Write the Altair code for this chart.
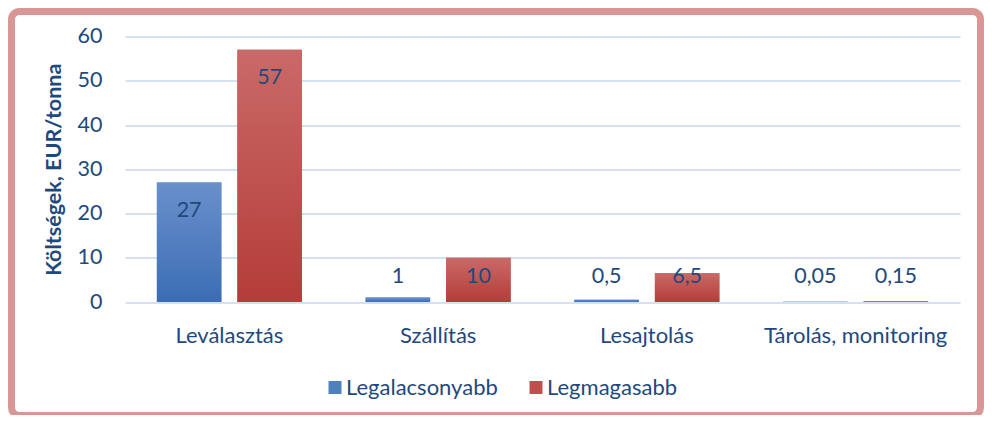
import altair as alt
import pandas as pd

categories = ["Leválasztás", "Szállítás", "Lesajtolás", "Tárolás, monitoring"]
series = ["Legalacsonyabb", "Legmagasabb"]
low_values = [27, 1, 0.5, 0.05]
high_values = [57, 10, 6.5, 0.15]
low_labels = ["27", "1", "0,5", "0,05"]
high_labels = ["57", "10", "6,5", "0,15"]
y_ticks = [0, 10, 20, 30, 40, 50, 60]

rows = []
for i, c in enumerate(categories):
    rows.append({"cat": c, "series": series[0], "value": low_values[i], "label": low_labels[i]})
    rows.append({"cat": c, "series": series[1], "value": high_values[i], "label": high_labels[i]})
df = pd.DataFrame(rows)

FONT = "Lato"
TXT = "#1F497D"

x_enc = alt.X(
    "cat:N", sort=categories,
    scale=alt.Scale(paddingInner=0.3054, paddingOuter=0.1527),
    axis=alt.Axis(title=None, labelFontSize=22, labelColor=TXT, labelFont=FONT,
                  domain=False, ticks=False, labelPadding=23, labelAngle=0, grid=False,
                  labelLimit=0),
)
xo_enc = alt.XOffset("series:N", sort=series,
                     scale=alt.Scale(domain=series, paddingInner=0.199, paddingOuter=0))
y_enc = alt.Y(
    "value:Q",
    scale=alt.Scale(domain=[0, 60], nice=False),
    axis=alt.Axis(values=y_ticks, title="Költségek, EUR/tonna", titleFontSize=21.5,
                  titleFont=FONT, titleFontWeight="bold", titleColor=TXT, titlePadding=12,
                  labelFontSize=21.5, labelFont=FONT, labelColor=TXT, labelPadding=23,
                  domain=False, ticks=False, grid=True, gridColor="#D5E1F0", gridWidth=2),
)

base = alt.Chart(df)

bars = base.mark_bar().encode(
    x=x_enc, xOffset=xo_enc, y=y_enc,
    color=alt.Color(
        "series:N",
        scale=alt.Scale(domain=series, range=["#4F81BD", "#C0504D"]),
        legend=alt.Legend(title=None, orient="none", legendX=199, legendY=340,
                          direction="horizontal", symbolType="square", symbolSize=169,
                          symbolStrokeWidth=0, labelFontSize=22, labelFont=FONT,
                          labelColor=TXT, columnPadding=27, labelOffset=0, padding=0,
                          labelLimit=0),
    ),
)


def grad_layer(name, top, bottom):
    return base.transform_filter(alt.datum.series == name).mark_bar(
        color=alt.Gradient(gradient="linear",
                           stops=[alt.GradientStop(color=top, offset=0),
                                  alt.GradientStop(color=bottom, offset=1)],
                           x1=0, x2=0, y1=0, y2=1)
    ).encode(x=x_enc, xOffset=xo_enc, y=y_enc)


grad_low = grad_layer(series[0], "#6A90CB", "#3B6DB4")
grad_high = grad_layer(series[1], "#C96A68", "#B53C38")

labels = base.transform_calculate(
    label_y="max(datum.value - 6.4, 5.65)"
).mark_text(fontSize=21.5, font=FONT, color=TXT, baseline="middle").encode(
    x=x_enc, xOffset=xo_enc,
    y=alt.Y("label_y:Q"),
    text="label:N",
)

frame = alt.Chart(pd.DataFrame({"a": [0]})).mark_rect(
    fill="transparent", stroke="#D99694", strokeWidth=7, cornerRadius=8
).encode(
    x=alt.value(-113.5), x2=alt.value(855.5), y=alt.value(-25), y2=alt.value(379)
)

chart = alt.layer(frame, bars, grad_low, grad_high, labels).properties(
    width=835, height=265.5,
    autosize=alt.AutoSizeParams(type="none"),
    padding={"left": 117, "top": 28.5, "right": 24, "bottom": 113},
    background="white",
).configure_view(stroke=None)

chart.save("out.html", embed_options={"renderer": "svg", "actions": False})
